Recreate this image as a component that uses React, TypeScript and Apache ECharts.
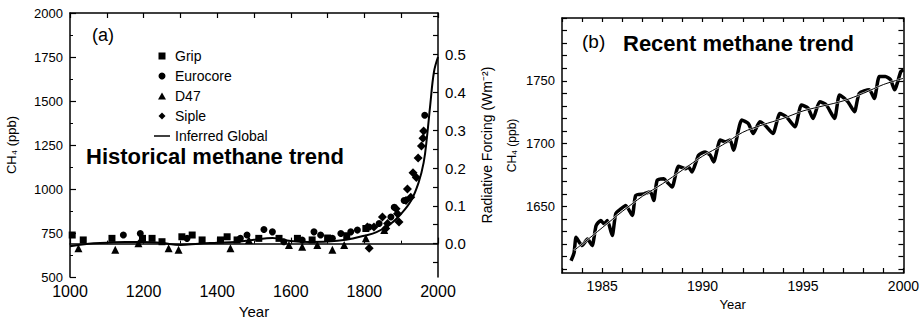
import React, { useEffect, useRef } from "react";
import * as echarts from "echarts";

// ---------- Panel (a): historical methane ----------
const gripData: [number, number][] = [
  [1006, 739], [1036, 711], [1114, 720], [1197, 720], [1223, 720], [1250, 701],
  [1304, 729], [1332, 739], [1359, 711], [1409, 711], [1427, 729], [1454, 711],
  [1513, 720], [1568, 720], [1618, 720], [1658, 711], [1700, 722], [1752, 735],
  [1804, 776],
];
const eurocoreData: [number, number][] = [
  [1145, 739], [1191, 748], [1318, 720], [1463, 720], [1481, 739], [1527, 770],
  [1550, 757], [1581, 701], [1631, 711], [1663, 757], [1681, 739], [1713, 720],
  [1736, 748], [1763, 757], [1781, 767], [1813, 785], [1840, 804], [1872, 841],
  [1881, 897], [1908, 935], [1964, 1419],
];
const d47Data: [number, number][] = [
  [1023, 664], [1123, 655], [1186, 692], [1268, 664], [1295, 655], [1436, 664],
  [1486, 711], [1595, 683], [1631, 673], [1672, 683], [1713, 655], [1745, 683],
  [1804, 720], [1854, 767],
];
const sipleData: [number, number][] = [
  [1808, 785], [1813, 664], [1826, 785], [1849, 841], [1858, 776], [1863, 804],
  [1886, 888], [1890, 860], [1894, 813], [1913, 935], [1917, 1000], [1926, 953],
  [1932, 1093], [1941, 1065], [1946, 1177], [1955, 1244], [1959, 1289], [1961, 1330],
];
const globalData: [number, number][] = [
  [1000, 675], [1050, 690], [1100, 695], [1150, 700], [1200, 700], [1250, 693],
  [1300, 683], [1350, 690], [1400, 695], [1450, 700], [1500, 712], [1550, 722],
  [1600, 705], [1650, 700], [1700, 702], [1750, 712], [1800, 735], [1833, 755],
  [1870, 800], [1900, 860], [1927, 935], [1947, 1035], [1961, 1150], [1970, 1295],
  [1979, 1480], [1989, 1665], [2000, 1750],
];
const ppbTicksA = [500, 750, 1000, 1250, 1500, 1750, 2000];
const forcingLabels = [0, 0.1, 0.2, 0.3, 0.4, 0.5];
const forcingTicks = [-0.05, 0, 0.05, 0.1, 0.15, 0.2, 0.25, 0.3, 0.35, 0.4, 0.45, 0.5, 0.55, 0.6];

// ---------- Panel (b): recent methane ----------
const recentData: [number, number][] = [
  [1983.45, 1606.8], [1983.6, 1613], [1983.7, 1625.5], [1983.86, 1621.5], [1984.0, 1618.8],
  [1984.27, 1624], [1984.5, 1618.8], [1984.7, 1634.8], [1984.93, 1638.8], [1985.1, 1636],
  [1985.26, 1638.8], [1985.5, 1626.8], [1985.68, 1644.3], [1985.93, 1648], [1986.17, 1650.8],
  [1986.5, 1642.8], [1986.67, 1658.8], [1987.08, 1660], [1987.4, 1661.6], [1987.57, 1654.8],
  [1987.74, 1670.8], [1988.07, 1672], [1988.23, 1669.4], [1988.48, 1665.4], [1988.8, 1682],
  [1989.14, 1680], [1989.3, 1681.4], [1989.47, 1677.4], [1989.8, 1690.8], [1990.13, 1693.4],
  [1990.38, 1690.8], [1990.55, 1685.4], [1990.88, 1702.8], [1991.12, 1701.4], [1991.37, 1702.8],
  [1991.54, 1694.8], [1991.95, 1718.8], [1992.28, 1716], [1992.52, 1708], [1992.85, 1717.4],
  [1993.1, 1714.8], [1993.5, 1708], [1993.85, 1724], [1994.17, 1721.4], [1994.6, 1713.4],
  [1994.92, 1730.8], [1995.25, 1728.2], [1995.5, 1720], [1995.83, 1733.4], [1996.16, 1730.8],
  [1996.57, 1720], [1996.82, 1738.8], [1997.23, 1733.4], [1997.56, 1725.4], [1997.8, 1740],
  [1998.3, 1742.8], [1998.55, 1736], [1998.8, 1753.4], [1999.1, 1753.4], [1999.36, 1750.8],
  [1999.56, 1742.8], [1999.87, 1757.4], [2000.0, 1758.8],
];
const trendData: [number, number][] = [
  [1983.6, 1615], [1984, 1620], [1985, 1633], [1986, 1646], [1987, 1658], [1988, 1668],
  [1989, 1679], [1990, 1690], [1991, 1699], [1992, 1709], [1993, 1715], [1994, 1720],
  [1995, 1726], [1996, 1730], [1997, 1734], [1998, 1740], [1999, 1747], [2000, 1752],
];
const yearLabelsB = [1985, 1990, 1995, 2000];
const yearTicksB = [1983, 1984, 1985, 1986, 1987, 1988, 1989, 1990, 1991, 1992, 1993, 1994, 1995, 1996, 1997, 1998, 1999, 2000];
const ppbLabelsB = [1650, 1700, 1750];
const ppbTicksB = [1600, 1610, 1620, 1630, 1640, 1650, 1660, 1670, 1680, 1690, 1700, 1710, 1720, 1730, 1740, 1750, 1760, 1770, 1780, 1790, 1800];

const FONT = "'Liberation Sans', Arial, sans-serif";
const BLACK = "#000";
const plain = (v: number) => String(v);

export default function App() {
  const ref = useRef<HTMLDivElement>(null);

  useEffect(() => {
    if (!ref.current) return;
    const chart = echarts.init(ref.current, undefined, { renderer: "svg" });
    const axisLine = { show: true, lineStyle: { color: BLACK, width: 1.5 } };
    const tick = (len: number) => ({ show: true, inside: true, length: len, lineStyle: { color: BLACK, width: 1.2 } });
    const marker = { color: BLACK, opacity: 1 };

    chart.setOption({
      animation: false,
      backgroundColor: "#fff",
      textStyle: { fontFamily: FONT, color: BLACK },
      grid: [
        { left: 70, top: 13, width: 368, height: 268 },
        { left: 562, top: 18, width: 345, height: 255 },
      ],
      legend: {
        orient: "vertical",
        left: 149,
        top: 44,
        itemWidth: 16,
        itemHeight: 7,
        itemGap: 6,
        symbolKeepAspect: true,
        textStyle: { fontSize: 14, color: BLACK, fontFamily: FONT },
        data: [
          { name: "Grip", icon: "path://M0,0H8V8H0Z" },
          { name: "Eurocore", icon: "circle" },
          { name: "D47", icon: "path://M4,0L8,7H0Z" },
          { name: "Siple", icon: "path://M4,0L8,4L4,8L0,4Z" },
          { name: "Inferred Global", icon: "path://M0,0H16V1.5H0Z" },
        ],
      },
      xAxis: [
        {
          gridIndex: 0, type: "value", position: "bottom", min: 1000, max: 2000, interval: 200,
          axisLine, axisTick: tick(6), minorTick: { show: true, splitNumber: 2, length: 3, lineStyle: { color: BLACK } },
          splitLine: { show: false }, minorSplitLine: { show: false },
          axisLabel: { fontSize: 16, color: BLACK, margin: 6, formatter: plain },
          name: "Year", nameLocation: "middle", nameGap: 22, nameTextStyle: { fontSize: 15, color: BLACK },
        },
        {
          gridIndex: 0, type: "value", position: "top", min: 1000, max: 2000, interval: 100,
          axisLine, axisTick: tick(5), splitLine: { show: false }, axisLabel: { show: false },
        },
        {
          gridIndex: 1, type: "value", position: "bottom", min: 1983, max: 2000,
          axisLine, axisTick: { ...tick(5), customValues: yearTicksB },
          splitLine: { show: false },
          axisLabel: { fontSize: 14, color: BLACK, margin: 6, customValues: yearLabelsB, formatter: plain },
          name: "Year", nameLocation: "middle", nameGap: 19, nameTextStyle: { fontSize: 13, color: BLACK },
        },
        {
          gridIndex: 1, type: "value", position: "top", min: 1983, max: 2000,
          axisLine, axisTick: { ...tick(4), customValues: yearTicksB },
          splitLine: { show: false }, axisLabel: { show: false },
        },
      ],
      yAxis: [
        {
          gridIndex: 0, type: "value", position: "left", min: 500, max: 2000, interval: 250,
          axisLine, axisTick: tick(6), minorTick: { show: true, splitNumber: 2, length: 3, lineStyle: { color: BLACK } },
          splitLine: { show: false }, minorSplitLine: { show: false },
          axisLabel: { fontSize: 13, color: BLACK, margin: 7, customValues: ppbTicksA, formatter: plain },
          name: "CH₄ (ppb)", nameLocation: "middle", nameGap: 52, nameRotate: 90,
          nameTextStyle: { fontSize: 13, color: BLACK },
        },
        {
          gridIndex: 0, type: "value", position: "right", min: -0.0885, max: 0.6099,
          axisLine, axisTick: { ...tick(5), customValues: forcingTicks },
          splitLine: { show: false },
          axisLabel: { fontSize: 15, color: BLACK, margin: 7, customValues: forcingLabels, formatter: (v: number) => v.toFixed(1) },
          name: "Radiative Forcing (Wm⁻²)", nameLocation: "middle", nameGap: 42, nameRotate: 90,
          nameTextStyle: { fontSize: 14, color: BLACK },
        },
        {
          gridIndex: 1, type: "value", position: "left", min: 1597, max: 1800,
          axisLine, axisTick: { ...tick(5), customValues: ppbTicksB },
          splitLine: { show: false },
          axisLabel: { fontSize: 13, color: BLACK, margin: 7, customValues: ppbLabelsB, formatter: plain },
          name: "CH₄ (ppb)", nameLocation: "middle", nameGap: 44, nameRotate: 90,
          nameTextStyle: { fontSize: 12, color: BLACK },
        },
        {
          gridIndex: 1, type: "value", position: "right", min: 1597, max: 1800,
          axisLine, axisTick: { ...tick(5), customValues: ppbTicksB },
          splitLine: { show: false }, axisLabel: { show: false },
        },
      ],
      series: [
        { name: "Inferred Global", type: "line", xAxisIndex: 0, yAxisIndex: 0, data: globalData, smooth: 0.4, showSymbol: false, symbol: "none", lineStyle: { color: BLACK, width: 2 }, itemStyle: { color: BLACK }, z: 3 },
        { name: "Grip", type: "scatter", xAxisIndex: 0, yAxisIndex: 0, data: gripData, symbol: "rect", symbolSize: 7, itemStyle: marker },
        { name: "Eurocore", type: "scatter", xAxisIndex: 0, yAxisIndex: 0, data: eurocoreData, symbol: "circle", symbolSize: 7, itemStyle: marker },
        { name: "D47", type: "scatter", xAxisIndex: 0, yAxisIndex: 0, data: d47Data, symbol: "triangle", symbolSize: 8, itemStyle: marker },
        { name: "Siple", type: "scatter", xAxisIndex: 0, yAxisIndex: 0, data: sipleData, symbol: "diamond", symbolSize: 9, itemStyle: marker },
        { name: "Monthly", type: "line", xAxisIndex: 2, yAxisIndex: 2, data: recentData, smooth: 0.2, showSymbol: false, symbol: "none", lineStyle: { color: BLACK, width: 3.5 } },
        { name: "TrendHalo", type: "line", xAxisIndex: 2, yAxisIndex: 2, data: trendData, smooth: 0.3, showSymbol: false, symbol: "none", lineStyle: { color: "#fff", width: 2.2, opacity: 0.7 } },
        { name: "Trend", type: "line", xAxisIndex: 2, yAxisIndex: 2, data: trendData, smooth: 0.3, showSymbol: false, symbol: "none", lineStyle: { color: BLACK, width: 1 } },
      ],
      graphic: [
        { type: "text", left: 92, top: 26, style: { text: "(a)", fontSize: 18, fontFamily: FONT, fill: BLACK } },
        { type: "text", left: 86, top: 145, style: { text: "Historical methane trend", fontSize: 22, fontWeight: "bold", fontFamily: FONT, fill: BLACK } },
        { type: "text", left: 582, top: 32, style: { text: "(b)", fontSize: 19, fontFamily: FONT, fill: BLACK } },
        { type: "text", left: 623, top: 32, style: { text: "Recent methane trend", fontSize: 22, fontWeight: "bold", fontFamily: FONT, fill: BLACK } },
      ],
    });
    return () => chart.dispose();
  }, []);

  return <div ref={ref} style={{ position: "fixed", left: 0, top: 0, width: 922, height: 324 }} />;
}
